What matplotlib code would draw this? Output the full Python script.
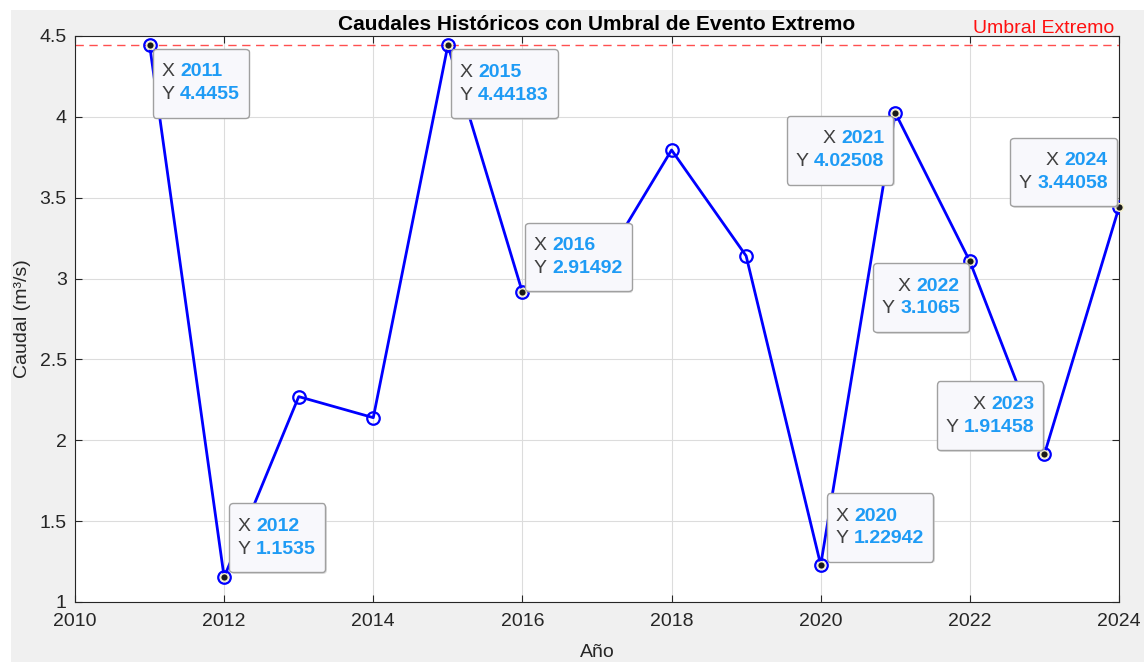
import matplotlib
matplotlib.use("Agg")
import matplotlib.pyplot as plt
from matplotlib.patches import Rectangle
from matplotlib.offsetbox import TextArea, HPacker, VPacker, AnnotationBbox, DrawingArea

years = [2011, 2012, 2013, 2014, 2015, 2016, 2017, 2018, 2019, 2020, 2021, 2022, 2023, 2024]
caudal = [4.4455, 1.1535, 2.27, 2.14, 4.44183, 2.91492, 3.03, 3.795, 3.14, 1.22942, 4.02508, 3.1065, 1.91458, 3.44058]
umbral = 4.444
tip_years = [2011, 2012, 2015, 2016, 2020, 2021, 2022, 2023, 2024]
tip_labels_y = ["4.4455", "1.1535", "4.44183", "2.91492", "1.22942", "4.02508", "3.1065", "1.91458", "3.44058"]
x_ticks = [2010, 2012, 2014, 2016, 2018, 2020, 2022, 2024]
y_ticks = [1, 1.5, 2, 2.5, 3, 3.5, 4, 4.5]

FONT = ['Liberation Sans', 'DejaVu Sans']
plt.rcParams['font.family'] = FONT

W, H = 1144, 662
fig = plt.figure(figsize=(W / 100, H / 100), dpi=100, facecolor='#F0F0F0')
fig.add_artist(Rectangle((0, 1 - 10 / H), 1, 10 / H, transform=fig.transFigure,
                         facecolor='white', edgecolor='none', zorder=-10))
fig.add_artist(Rectangle((0, 0), 11 / W, 1, transform=fig.transFigure,
                         facecolor='white', edgecolor='none', zorder=-10))

ax = fig.add_axes([75 / W, (H - 602) / H, 1044 / W, 566 / H])
ax.set_facecolor('white')

ax.plot(years, caudal, '-o', color='#0000FF', lw=2.0, markersize=9,
        markerfacecolor='none', markeredgewidth=1.6, zorder=3)
ax.axhline(umbral, color='#FF3030', lw=1.0, ls=(0, (6, 4)), alpha=0.85, zorder=2)
ax.text(2023.93, 4.495, 'Umbral Extremo', color='#FF1010', fontsize=14,
        ha='right', va='bottom', zorder=5)

ax.set_xlim(2010, 2024)
ax.set_ylim(1, 4.5)
ax.set_xticks(x_ticks)
ax.set_yticks(y_ticks)
ax.set_yticklabels([f"{v:g}" for v in y_ticks])
ax.grid(True, color='#DCDCDC', lw=0.8)
ax.set_axisbelow(True)
ax.tick_params(direction='in', top=True, right=True, length=5, width=0.8,
               colors='#262626', labelsize=14, labelcolor='#262626')
ax.tick_params(axis='x', pad=8)
ax.tick_params(axis='y', pad=6)
for s in ax.spines.values():
    s.set_color('#262626')
    s.set_linewidth(0.8)

ax.set_title('Caudales Históricos con Umbral de Evento Extremo', fontsize=15,
             fontweight='bold', color='black', pad=4)
ax.set_xlabel('Año', fontsize=14, color='#262626', labelpad=10)
ax.set_ylabel('Caudal (m³/s)', fontsize=14, color='#262626', labelpad=6)

tip_vals = [caudal[years.index(y)] for y in tip_years]
ax.scatter(tip_years, tip_vals, s=30, color='#1A1A1A', edgecolor='#F5F0C8',
           linewidths=1.0, zorder=6, clip_on=False)

placement = {
    2011: ((0, 1), (3, -4)),
    2012: ((0, 0), (5, 5)),
    2015: ((0, 1), (3, -4)),
    2016: ((0, 0), (3, 1)),
    2020: ((0, 0), (6, 3)),
    2021: ((1, 1), (-2, -3)),
    2022: ((1, 1), (-1, -2)),
    2023: ((1, 0), (-1, 4)),
    2024: ((1, 0), (-2, 1)),
}
BLUE = '#1E9BF5'
GRAY = '#404040'
fs = 14


def make_tip(yr, ylab, align, c_gray, c_blue):
    l1 = HPacker(children=[TextArea('X ', textprops=dict(color=c_gray, fontsize=fs)),
                           TextArea(str(yr), textprops=dict(color=c_blue, fontsize=fs, fontweight='bold'))],
                 pad=0, sep=0, align='baseline')
    l2 = HPacker(children=[TextArea('Y ', textprops=dict(color=c_gray, fontsize=fs)),
                           TextArea(ylab, textprops=dict(color=c_blue, fontsize=fs, fontweight='bold'))],
                 pad=0, sep=0, align='baseline')
    return VPacker(children=[DrawingArea(0, 0), l1, l2, DrawingArea(0, 0)], pad=6.5, sep=4,
                   align='left' if align[0] == 0 else 'right')


for yr, ylab, yv in zip(tip_years, tip_labels_y, tip_vals):
    align, (dx, dy) = placement[yr]
    sh = AnnotationBbox(make_tip(yr, ylab, align, 'none', 'none'),
                        (yr, yv), xycoords='data', xybox=((dx + 1.5) * 0.72, (dy - 1.5) * 0.72),
                        boxcoords='offset points', box_alignment=align, pad=0, frameon=True,
                        bboxprops=dict(boxstyle='round,pad=0,rounding_size=0.25',
                                       facecolor='#C8C8C8', edgecolor='none', alpha=0.6))
    sh.set_zorder(6.5)
    sh.set_clip_on(False)
    ax.add_artist(sh)
    ab = AnnotationBbox(make_tip(yr, ylab, align, GRAY, BLUE), (yr, yv), xycoords='data',
                        xybox=(dx * 0.72, dy * 0.72), boxcoords='offset points',
                        box_alignment=align, pad=0, frameon=True,
                        bboxprops=dict(boxstyle='round,pad=0,rounding_size=0.25',
                                       facecolor='#F8F8FC', edgecolor='#A0A0A0', lw=1.0))
    ab.set_zorder(7)
    ab.set_clip_on(False)
    ax.add_artist(ab)

fig.savefig('out.png', dpi=100, facecolor=fig.get_facecolor())
